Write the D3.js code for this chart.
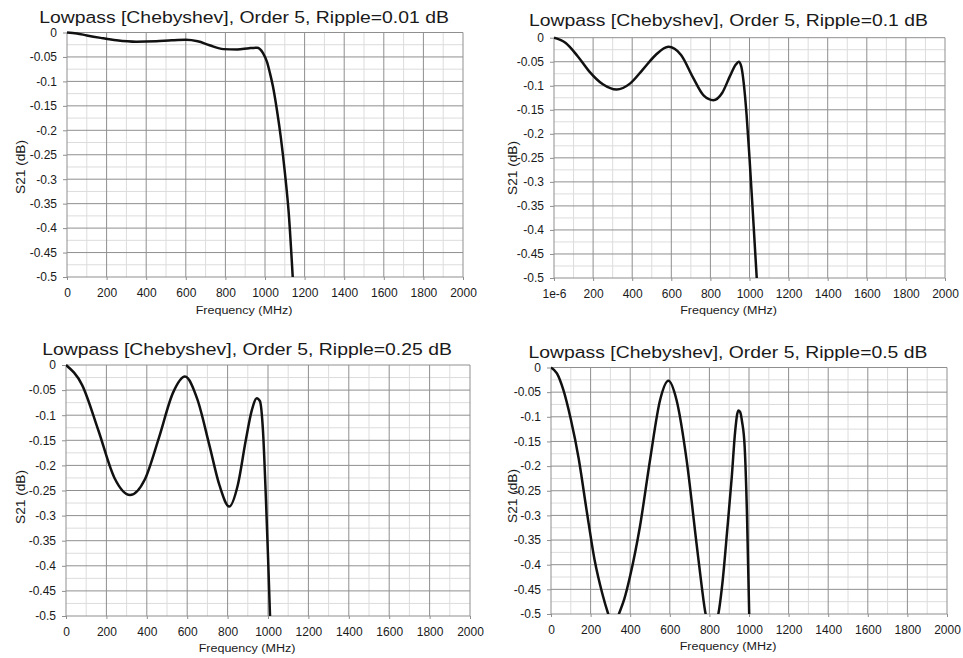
<!DOCTYPE html>
<html>
<head>
<meta charset="utf-8">
<title>Lowpass Chebyshev S21</title>
<script src="https://d3js.org/d3.v7.min.js"></script>
<style>
  body { margin: 0; background: #fff; }
  svg text { font-family: "Liberation Sans", Arial, sans-serif; fill: #1a1a1a; }
</style>
</head>
<body>
<div id="chart"></div>
<script>
// chart data
var ripples = ["0.01", "0.1", "0.25", "0.5"];
var freqTicks = [0, 200, 400, 600, 800, 1000, 1200, 1400, 1600, 1800, 2000];
var freqTickLabels = ["0", "200", "400", "600", "800", "1000", "1200", "1400", "1600", "1800", "2000"];
var freqTickLabels2 = ["1e-6", "200", "400", "600", "800", "1000", "1200", "1400", "1600", "1800", "2000"];
var s21Ticks = [0, -0.05, -0.1, -0.15, -0.2, -0.25, -0.3, -0.35, -0.4, -0.45, -0.5];

var freq001 = [0, 50, 100, 170, 250, 350, 450, 530, 600, 660, 720, 790, 860, 920, 960, 990, 1010, 1025, 1040, 1060, 1080, 1100, 1120, 1140];
var s21_001 = [0, -0.002, -0.006, -0.011, -0.016, -0.019, -0.018, -0.016, -0.015, -0.018, -0.026, -0.034, -0.035, -0.032, -0.031, -0.042, -0.06, -0.083, -0.11, -0.158, -0.215, -0.285, -0.37, -0.5];

var freq01 = [0, 60, 120, 180, 250, 320, 390, 455, 520, 585, 650, 710, 765, 815, 860, 900, 930, 945, 958, 972, 985, 1000, 1018, 1037];
var s21_01 = [0, -0.011, -0.038, -0.07, -0.097, -0.108, -0.095, -0.066, -0.036, -0.019, -0.036, -0.082, -0.12, -0.13, -0.115, -0.08, -0.056, -0.05, -0.06, -0.1, -0.16, -0.25, -0.37, -0.5];

var freq025 = [0, 80, 160, 240, 317, 390, 460, 530, 589, 650, 710, 760, 808, 850, 890, 920, 944, 960, 975, 990, 1000, 1010];
var s21_025 = [0, -0.04, -0.13, -0.225, -0.259, -0.228, -0.145, -0.055, -0.023, -0.068, -0.16, -0.24, -0.282, -0.24, -0.15, -0.09, -0.066, -0.072, -0.13, -0.27, -0.38, -0.5];

var freq05 = [0, 30, 62, 100, 140, 180, 220, 260, 289, 316, 343, 370, 399, 449, 500, 551, 593, 634, 685, 735, 760, 781, 813, 845, 865, 890, 913, 930, 946, 955, 965, 978, 990, 1001];
var s21_05 = [0, -0.012, -0.045, -0.105, -0.185, -0.29, -0.39, -0.46, -0.5, -0.53, -0.5, -0.47, -0.424, -0.323, -0.188, -0.066, -0.027, -0.066, -0.188, -0.357, -0.44, -0.5, -0.53, -0.5, -0.44, -0.33, -0.222, -0.13, -0.087, -0.09, -0.11, -0.16, -0.3, -0.5];

var allFreqs = [freq001, freq01, freq025, freq05];
var allS21 = [s21_001, s21_01, s21_025, s21_05];
var allFreqLabels = [freqTickLabels, freqTickLabels2, freqTickLabels, freqTickLabels];

// layout of the four panels (plot areas)
var panels = [
  {left: 67,  top: 32.5,  right: 463, bottom: 277, titleY: 22.5,  xTitleY: 313.5, yTitleX: 21,  yTitleY: 167},
  {left: 554, top: 37.7,  right: 945, bottom: 278, titleY: 26,    xTitleY: 314,   yTitleX: 513, yTitleY: 168},
  {left: 66,  top: 365,   right: 470, bottom: 616, titleY: 354.5, xTitleY: 651.5, yTitleX: 21,  yTitleY: 497},
  {left: 551, top: 367.5, right: 947, bottom: 614, titleY: 358,   xTitleY: 650,   yTitleX: 513, yTitleY: 496}
];

var width = 963, height = 658;
var stretch = 1.14;

var svg = d3.select("#chart").append("svg")
    .attr("width", width)
    .attr("height", height);

panels.forEach(function(p, i) {
    drawPanel(p, i);
});

function drawPanel(p, i) {
    var x = d3.scaleLinear().domain([0, 2000]).range([p.left, p.right]);
    var y = d3.scaleLinear().domain([-0.5, 0]).range([p.bottom, p.top]);
    var g = svg.append("g");

    // minor grid
    var minorX = d3.range(100, 2000, 200);
    var minorY = d3.range(0, 10).map(function(k) { return -0.025 - k * 0.05; });
    g.selectAll(".minx").data(minorX).enter().append("line")
        .attr("x1", d => x(d)).attr("x2", d => x(d))
        .attr("y1", p.top).attr("y2", p.bottom)
        .attr("stroke", "#dcdcdc").attr("stroke-width", 1);
    g.selectAll(".miny").data(minorY).enter().append("line")
        .attr("x1", p.left).attr("x2", p.right)
        .attr("y1", d => y(d)).attr("y2", d => y(d))
        .attr("stroke", "#dcdcdc").attr("stroke-width", 1);

    // major grid
    g.selectAll(".majx").data(freqTicks).enter().append("line")
        .attr("x1", d => x(d)).attr("x2", d => x(d))
        .attr("y1", p.top).attr("y2", p.bottom)
        .attr("stroke", "#8f8f8f").attr("stroke-width", 1);
    g.selectAll(".majy").data(s21Ticks).enter().append("line")
        .attr("x1", p.left).attr("x2", p.right)
        .attr("y1", d => y(d)).attr("y2", d => y(d))
        .attr("stroke", "#8f8f8f").attr("stroke-width", 1);

    // axes
    var labels = allFreqLabels[i];
    var xAxis = d3.axisBottom(x).tickValues(freqTicks)
        .tickSizeInner(3).tickSizeOuter(0).tickPadding(8)
        .tickFormat((d, k) => labels[k]);
    var yAxis = d3.axisLeft(y).tickValues(s21Ticks)
        .tickSizeInner(4).tickSizeOuter(0).tickPadding(6)
        .tickFormat(d => d === 0 ? "0" : String(d));

    var gx = g.append("g").attr("transform", "translate(0," + p.bottom + ")").call(xAxis);
    var gy = g.append("g").attr("transform", "translate(" + p.left + ",0)").call(yAxis);
    [gx, gy].forEach(function(a) {
        a.select(".domain").remove();
        a.selectAll(".tick line").attr("stroke", "#8f8f8f");
        a.selectAll(".tick text").attr("font-size", 12).attr("fill", "#1a1a1a")
            .style("font-family", "'Liberation Sans', Arial, sans-serif");
    });

    // curve, clipped to the plot area
    var clipId = "clip" + i;
    svg.append("clipPath").attr("id", clipId).append("rect")
        .attr("x", p.left).attr("y", p.top - 2)
        .attr("width", p.right - p.left).attr("height", p.bottom - p.top + 2);

    var pts = allFreqs[i].map((f, k) => [f, allS21[i][k]]);
    var line = d3.line()
        .x(d => x(d[0]))
        .y(d => y(d[1]))
        .curve(d3.curveMonotoneX);
    g.append("path")
        .attr("clip-path", "url(#" + clipId + ")")
        .attr("d", line(pts))
        .attr("fill", "none")
        .attr("stroke", "#111")
        .attr("stroke-width", 2.5)
        .attr("stroke-linejoin", "round");

    // titles
    var cx = (p.left + p.right) / 2 - 21;
    g.append("text")
        .attr("transform", "translate(" + cx + "," + p.titleY + ") scale(" + stretch + ",1)")
        .attr("text-anchor", "middle")
        .attr("font-size", 17)
        .text("Lowpass [Chebyshev], Order 5, Ripple=" + ripples[i] + " dB");

    g.append("text")
        .attr("transform", "translate(" + cx + "," + p.xTitleY + ") scale(" + stretch + ",1)")
        .attr("text-anchor", "middle")
        .attr("font-size", 11)
        .text("Frequency (MHz)");

    g.append("text")
        .attr("transform", "translate(" + p.yTitleX + "," + p.yTitleY + ") rotate(-90) scale(" + stretch + ",1)")
        .attr("text-anchor", "middle")
        .attr("dy", "0.35em")
        .attr("font-size", 12)
        .text("S21 (dB)");
}
</script>
</body>
</html>
